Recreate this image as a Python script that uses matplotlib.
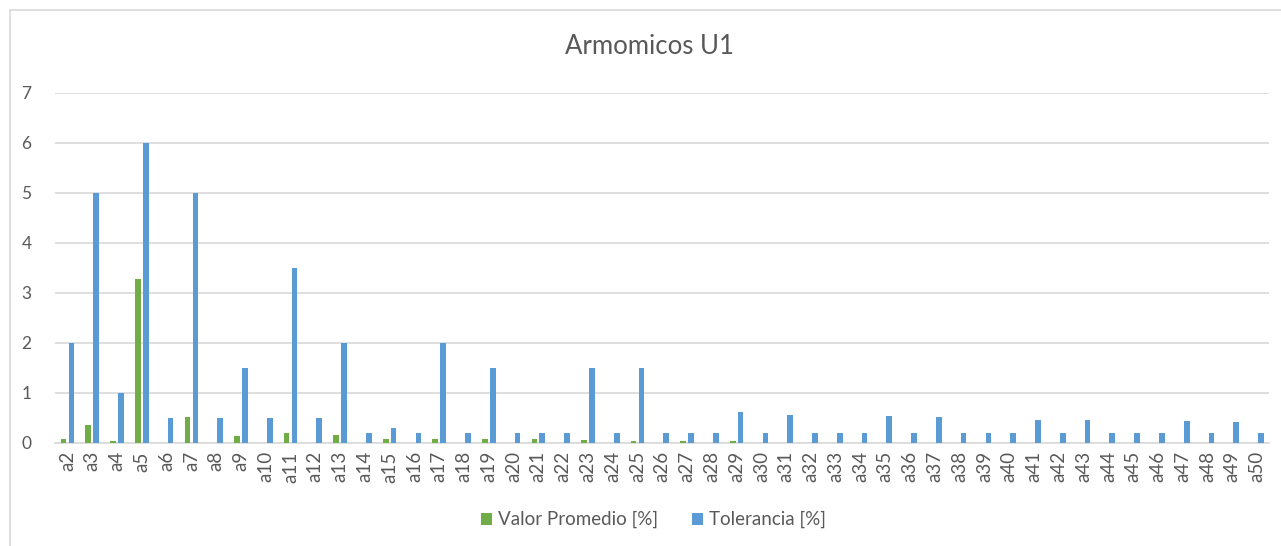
import matplotlib.pyplot as plt
import numpy as np
from matplotlib.patches import Rectangle

plt.rcParams['font.family'] = ['Lato', 'DejaVu Sans']

categories = ['a%d' % i for i in range(2, 51)]

valor_promedio = [0.07, 0.36, 0.03, 3.27, 0.0, 0.52, 0.0, 0.14, 0.0, 0.19,
                  0.0, 0.16, 0.0, 0.07, 0.0, 0.07, 0.0, 0.07, 0.0, 0.07,
                  0.0, 0.05, 0.0, 0.03, 0.0, 0.03, 0.0, 0.03, 0.0, 0.0,
                  0.0, 0.0, 0.0, 0.0, 0.0, 0.0, 0.0, 0.0, 0.0, 0.0,
                  0.0, 0.0, 0.0, 0.0, 0.0, 0.0, 0.0, 0.0, 0.0]

tolerancia = [2.0, 5.0, 1.0, 6.0, 0.5, 5.0, 0.5, 1.5, 0.5, 3.5,
              0.5, 2.0, 0.2, 0.3, 0.2, 2.0, 0.2, 1.5, 0.2, 0.2,
              0.2, 1.5, 0.2, 1.5, 0.2, 0.2, 0.2, 0.62, 0.2, 0.56,
              0.2, 0.2, 0.2, 0.53, 0.2, 0.51, 0.2, 0.2, 0.2, 0.46,
              0.2, 0.46, 0.2, 0.2, 0.2, 0.44, 0.2, 0.42, 0.2]

green = '#70AD47'
blue = '#5B9BD5'
gray_text = '#595959'

fig = plt.figure(figsize=(12.81, 5.46), dpi=100)
ax = fig.add_axes([0.043, 0.189, 0.948, 0.641])

# chart border
fig.patches.append(Rectangle((10 / 1281, -0.05), 1.1, 1 - 10 / 546 + 0.05,
                             transform=fig.transFigure, fill=False,
                             edgecolor='#D9D9D9', linewidth=1.2))

x = np.arange(len(categories))
w = 0.23
ax.bar(x - 0.16, valor_promedio, w, color=green, label='Valor Promedio [%]', zorder=3)
ax.bar(x + 0.16, tolerancia, w, color=blue, label='Tolerancia [%]', zorder=3)

ax.set_xlim(-0.5, len(categories) - 0.5)
ax.set_ylim(0, 7)
ax.set_yticks(range(8))
ax.grid(axis='y', color='#D9D9D9', linewidth=1.2, zorder=0)
ax.set_xticks(x)
ax.set_xticklabels(categories, rotation=90, fontsize=13.5, color=gray_text)
ax.tick_params(axis='y', labelsize=12.5, labelcolor=gray_text, length=0, pad=17)
ax.tick_params(axis='x', length=0, pad=6)
for s in ['top', 'right', 'left']:
    ax.spines[s].set_visible(False)
ax.spines['bottom'].set_color('#D9D9D9')
ax.spines['bottom'].set_linewidth(1.2)

fig.text(0.507, 0.915, 'Armomicos U1', ha='center', va='center',
         fontsize=18.5, color=gray_text)

fig.legend(loc='center', bbox_to_anchor=(0.51, 0.048), ncol=2, frameon=False,
           fontsize=13.5, handlelength=0.6, handleheight=0.6, columnspacing=1.8,
           handletextpad=0.3, labelcolor=gray_text)

plt.savefig('out.png', dpi=100)
